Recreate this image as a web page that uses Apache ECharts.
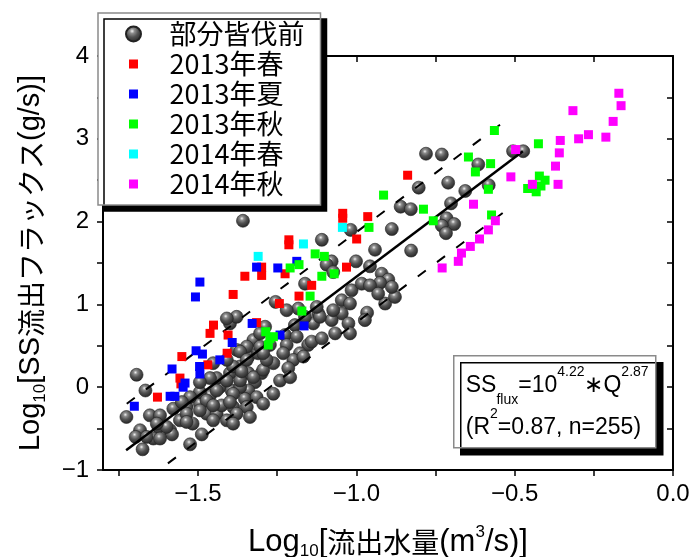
<!DOCTYPE html>
<html>
<head>
<meta charset="utf-8">
<script src="https://cdn.jsdelivr.net/npm/echarts@6.0.0/dist/echarts.min.js"></script>
<style>
html,body{margin:0;padding:0;background:#fff;}
#c{width:692px;height:557px;}
</style>
</head>
<body>
<div id="c"></div>
<script>
// ---------------- data ----------------
const seriesNames = ['部分皆伐前', '2013年春', '2013年夏', '2013年秋', '2014年春', '2014年秋'];

const grayPts = [
[-1.358,2.01],[-0.780,2.82],[-0.730,2.81],[-0.473,2.85],[-0.505,2.85],[-0.615,2.69],[-0.803,2.41],
[-0.710,2.47],[-0.656,2.37],[-0.582,2.44],[-0.701,2.22],[-0.860,2.18],[-0.828,2.15],[-0.715,2.04],
[-0.691,1.97],[-0.730,1.95],[-0.717,1.86],[-0.827,1.65],[-1.018,1.90],[-0.888,1.91],[-1.109,1.78],
[-0.941,1.66],[-1.001,1.52],[-0.957,1.46],[-1.078,1.52],[-1.094,1.48],[-1.073,1.39],[-1.162,1.25],[-0.920,1.37],
[-0.899,1.30],[-0.925,1.26],[-1.015,1.17],[-0.983,1.25],[-0.957,1.23],[-1.046,1.05],[-1.255,1.03],
[-1.183,0.95],[-1.120,0.89],[-1.136,0.77],[-1.288,0.73],[-1.046,0.89],[-1.025,0.77],[-0.966,0.90],
[-0.909,1.01],[-0.878,1.09],[-0.888,1.21],[-0.931,1.13],[-1.078,0.81],[-1.067,0.65],[-1.020,0.65],
[-1.152,0.51],[-1.141,0.55],[-1.178,0.41],[-1.199,0.33],[-1.215,0.23],[-1.167,0.37],[-1.194,0.75],
[-1.225,0.63],[-1.299,0.17],[-1.320,0.06],[-1.341,-0.04],[-1.352,-0.14],[-1.341,0.37],[-1.310,0.41],
[-1.325,0.57],[-1.346,0.49],[-0.973,0.81],[-1.020,1.01],
[-1.694,0.15],[-1.666,-0.04],[-1.726,-0.36],[-1.683,-0.52],[-1.697,-0.60],[-1.675,-0.75],[-1.652,-0.34],
[-1.620,-0.34],[-1.625,-0.48],[-1.641,-0.62],[-1.588,-0.52],[-1.582,-0.57],[-1.525,-0.69],[-1.488,-0.57],
[-1.517,-0.44],[-1.557,-0.40],[-1.578,-0.26],[-1.536,-0.24],[-1.494,-0.20],[-1.473,-0.32],[-1.441,-0.32],
[-1.425,-0.22],[-1.462,-0.10],[-1.494,-0.06],[-1.431,0.00],[-1.394,-0.04],[-1.367,0.00],[-1.389,-0.24],
[-1.409,-0.40],[-1.452,-0.40],[-1.525,-0.12],[-1.441,0.11],[-1.399,0.17],[-1.462,0.11],[-1.367,0.25],
[-1.378,0.45],[-1.399,0.77],[-1.378,0.85],[-1.409,0.83],[-1.494,0.06],[-1.341,0.17],[-1.367,0.08],
[-1.220,0.93],[-1.162,0.85],[-1.115,0.85],[-1.125,0.97],[-1.073,0.93],[-1.109,0.59],[-1.220,0.51],
[-1.188,0.61],[-1.304,0.49],[-1.367,0.43],[-1.346,0.33],[-1.389,0.25],[-1.409,0.08],[-1.441,-0.04],
[-1.473,-0.16],[-1.494,-0.28],[-1.452,-0.22],[-1.389,-0.08],[-1.325,0.12],[-1.294,0.21],[-1.262,0.29],
[-1.231,0.41],[-1.283,0.33],[-1.315,-0.12],[-1.346,-0.24],[-1.378,-0.32],[-1.399,-0.18],[-1.536,-0.32],
[-1.551,-0.18],[-1.452,0.29],[-1.409,0.33],[-1.362,0.19],[-1.304,0.65],[-1.273,0.51],[-1.294,0.41],
[-1.536,-0.42],[-1.599,-0.48],[-1.630,-0.44],[-1.620,-0.62],[-1.662,-0.60],[-1.389,-0.44],[-1.336,-0.36],
[-1.294,-0.20],[-1.262,-0.08],[-1.241,0.08],[-1.209,0.12]
];

const spring2013 = [
[-0.838,2.56],[-1.043,2.10],[-1.043,2.04],[-0.964,2.06],[-0.999,1.79],[-1.213,1.78],[-1.213,1.72],
[-1.031,1.45],[-1.299,1.45],[-1.299,1.35],[-1.352,1.34],[-1.225,1.37],[-1.141,1.23],[-1.181,1.10],
[-1.243,1.01],[-1.315,0.78],[-1.389,1.12],[-1.451,0.75],[-1.462,0.65],[-1.405,0.63],[-1.551,0.37],
[-1.408,0.41],[-1.469,0.27],[-1.557,0.11],[-1.554,0.04],[-1.628,-0.12]
];

const summer2013 = [
[-1.494,1.27],[-1.508,1.09],[-1.315,1.45],[-1.248,1.44],[-1.188,1.52],[-1.329,0.77],[-1.392,0.54],
[-1.431,0.33],[-1.506,0.44],[-1.486,0.40],[-1.495,0.25],[-1.494,0.16],[-1.582,0.22],[-1.541,0.05],
[-1.547,0.00],[-1.588,-0.11],[-1.573,-0.11],[-1.701,-0.23],[-1.241,0.63],[-1.165,0.74]
];

const autumn2013 = [
[-0.564,3.10],[-0.425,2.94],[-0.646,2.78],[-0.576,2.70],[-0.624,2.60],[-0.422,2.55],[-0.404,2.50],
[-0.459,2.40],[-0.432,2.36],[-0.417,2.43],[-0.583,2.39],[-0.914,2.32],[-0.788,2.15],[-0.573,2.08],
[-0.757,2.01],[-0.960,1.93],[-1.130,1.61],[-1.101,1.58],[-1.181,1.48],[-1.209,1.44],[-1.109,1.34],
[-1.070,1.37],[-1.146,1.10],[-1.172,0.92],[-1.286,0.67],[-1.273,0.59],[-1.278,0.51],[-1.262,0.61]
];

const spring2014 = [[-1.044,1.93],[-1.167,1.73],[-1.310,1.58]];

const autumn2014 = [
[-0.171,3.55],[-0.164,3.40],[-0.316,3.34],[-0.189,3.21],[-0.267,3.05],[-0.298,3.00],[-0.212,3.02],
[-0.356,2.98],[-0.359,2.83],[-0.371,2.67],[-0.363,2.45],[-0.497,2.87],[-0.512,2.54],[-0.444,2.45],
[-0.630,2.21],[-0.561,2.01],[-0.583,1.90],[-0.611,1.79],[-0.640,1.70],[-0.668,1.62],[-0.678,1.52],
[-0.729,1.44]
];

// fitted line and dashed band lines, endpoints
const fitLine = [[-1.727,-0.76],[-0.474,2.85]];
const upperBand = [[-1.725,-0.20],[-0.525,3.23]];
const lowerBand = [[-1.595,-0.92],[-0.525,2.14]];

// axis ticks / labels
const xTicks = [-1.75,-1.5,-1.25,-1.0,-0.75,-0.5,-0.25,0];
const xLabels = [-1.5,-1.0,-0.5,0];
const yTicks = [-1,-0.5,0,0.5,1,1.5,2,2.5,3,3.5,4];
const yLabels = [-1,0,1,2,3,4];

// ---------------- chart ----------------
const LAT = "'Liberation Sans', sans-serif";
const CJK = "'Noto Sans CJK JP', sans-serif";
const axisLineStyle = {color:'#000', width:2};
const tickLineStyle = {color:'#000', width:1.5};

const sphere = {
  type:'radial', x:0.42, y:0.33, r:0.72,
  colorStops:[
    {offset:0, color:'#f2f2f2'},
    {offset:0.2, color:'#8c8c8c'},
    {offset:0.5, color:'#525252'},
    {offset:1, color:'#1e1e1e'}
  ]
};
const sqIcon = 'path://M0,0M3,3h9v9h-9zM15,15';

const yNameRich = {
  L:{fontSize:29, fontFamily:LAT, color:'#000', lineHeight:36},
  a:{fontSize:28, fontFamily:CJK, color:'#000', lineHeight:36},
  sub:{fontSize:17, fontFamily:LAT, color:'#000', lineHeight:20, verticalAlign:'bottom'}
};
const xNameRich = {
  L:{fontSize:31, fontFamily:LAT, color:'#000', lineHeight:36},
  a:{fontSize:28, fontFamily:CJK, color:'#000', lineHeight:36},
  sub:{fontSize:17, fontFamily:LAT, color:'#000', lineHeight:20, verticalAlign:'bottom'},
  sup:{fontSize:17, fontFamily:LAT, color:'#000', lineHeight:20, verticalAlign:'top'}
};

const chart = echarts.init(document.getElementById('c'), null, {renderer:'canvas'});
chart.setOption({
  animation:false,
  backgroundColor:'#fff',
  grid:{left:103, right:19, top:56, bottom:87, containLabel:false, outerBoundsMode:'none'},
  legend:{
    data:[
      {name:seriesNames[0], icon:'circle'},
      {name:seriesNames[1], icon:sqIcon},
      {name:seriesNames[2], icon:sqIcon},
      {name:seriesNames[3], icon:sqIcon},
      {name:seriesNames[4], icon:sqIcon},
      {name:seriesNames[5], icon:sqIcon}
    ],
    orient:'vertical', left:98, top:13,
    itemWidth:62, itemHeight:15, itemGap:0,
    padding:[6,16,6,27],
    backgroundColor:'#fff', borderColor:'#8a8a8a', borderWidth:1.5,
    shadowColor:'#000', shadowBlur:0, shadowOffsetX:6, shadowOffsetY:6,
    selectedMode:false,
    textStyle:{fontSize:27, lineHeight:30, fontFamily:CJK, color:'#000'}
  },
  xAxis:[
    {
      type:'value', min:-1.8, max:0, position:'bottom',
      axisLine:{show:true, onZero:false, lineStyle:axisLineStyle},
      axisTick:{show:true, inside:false, length:6, customValues:xTicks, lineStyle:tickLineStyle},
      axisLabel:{customValues:xLabels, margin:12, fontSize:24, fontFamily:LAT, color:'#000',
        formatter:v => Number(v).toFixed(1).replace('-', '\u2212')},
      splitLine:{show:false},
      name:'{L|Log}{sub|10}{L|[}{a|流出水量}{L|(m}{sup|3}{L|/s)]}',
      nameLocation:'middle', nameGap:54, nameMoveOverlap:false,
      nameTextStyle:{rich:xNameRich}
    },
    {
      type:'value', min:-1.8, max:0, position:'top',
      axisLine:{show:true, onZero:false, lineStyle:axisLineStyle},
      axisTick:{show:true, inside:true, length:6, customValues:xTicks, lineStyle:tickLineStyle},
      axisLabel:{show:false}, splitLine:{show:false}
    }
  ],
  yAxis:[
    {
      type:'value', min:-1, max:4, position:'left',
      axisLine:{show:true, onZero:false, lineStyle:axisLineStyle},
      axisTick:{show:true, inside:false, length:6, customValues:yTicks, lineStyle:tickLineStyle},
      axisLabel:{customValues:yLabels, margin:14, fontSize:24, fontFamily:LAT, color:'#000',
        formatter:v => String(v).replace('-', '\u2212')},
      splitLine:{show:false},
      name:'{L|Log}{sub|10}{L|[SS}{a|流出フラックス}{L|(g/s)]}',
      nameLocation:'middle', nameGap:54, nameMoveOverlap:false,
      nameTextStyle:{rich:yNameRich}
    },
    {
      type:'value', min:-1, max:4, position:'right',
      axisLine:{show:true, onZero:false, lineStyle:axisLineStyle},
      axisTick:{show:true, inside:true, length:6, customValues:yTicks, lineStyle:tickLineStyle},
      axisLabel:{show:false}, splitLine:{show:false}
    }
  ],
  series:[
    {name:seriesNames[0], type:'scatter', data:grayPts, symbol:'circle', symbolSize:13, z:2,
      itemStyle:{color:sphere, borderColor:'#222', borderWidth:0.6, opacity:1}},
    {name:'fit', type:'line', data:fitLine, showSymbol:false, symbol:'none', silent:true, z:3,
      lineStyle:{color:'#000', width:2.5}},
    {name:'upper', type:'line', data:upperBand, showSymbol:false, symbol:'none', silent:true, z:3,
      lineStyle:{color:'#000', width:2, type:[10,14]}},
    {name:'lower', type:'line', data:lowerBand, showSymbol:false, symbol:'none', silent:true, z:3,
      lineStyle:{color:'#000', width:2, type:[10,14]}},
    {name:seriesNames[1], type:'scatter', data:spring2013, symbol:'rect', symbolSize:9, z:4, itemStyle:{color:'#ff0000', opacity:1}},
    {name:seriesNames[2], type:'scatter', data:summer2013, symbol:'rect', symbolSize:9, z:4, itemStyle:{color:'#0000ff', opacity:1}},
    {name:seriesNames[3], type:'scatter', data:autumn2013, symbol:'rect', symbolSize:9, z:4, itemStyle:{color:'#00ff00', opacity:1}},
    {name:seriesNames[4], type:'scatter', data:spring2014, symbol:'rect', symbolSize:9, z:4, itemStyle:{color:'#00ffff', opacity:1}},
    {name:seriesNames[5], type:'scatter', data:autumn2014, symbol:'rect', symbolSize:9, z:4, itemStyle:{color:'#ff00ff', opacity:1}}
  ],
  graphic:[
    {
      type:'group', left:453, top:355, z:100,
      children:[
        {type:'rect', shape:{x:0, y:0, width:202, height:92}, z:100,
          style:{fill:'#fff', stroke:'#8a8a8a', lineWidth:1.5, shadowColor:'#000', shadowBlur:0, shadowOffsetX:7, shadowOffsetY:7}},
        {type:'text', x:12, y:9, z:101,
          style:{
            text:'{a|SS}{sub|flux}{a|=10}{sup|4.22}{a|\u2217Q}{sup|2.87}\n{a|(R}{sup|2}{a|=0.87, n=255)}',
            verticalAlign:'top', align:'left',
            rich:{
              a:{fontSize:23, fontFamily:LAT, fill:'#000', lineHeight:42},
              sub:{fontSize:14, fontFamily:LAT, fill:'#000', lineHeight:18, verticalAlign:'bottom'},
              sup:{fontSize:14, fontFamily:LAT, fill:'#000', lineHeight:18, verticalAlign:'top'}
            }
          }}
      ]
    }
  ]
});
</script>
</body>
</html>
